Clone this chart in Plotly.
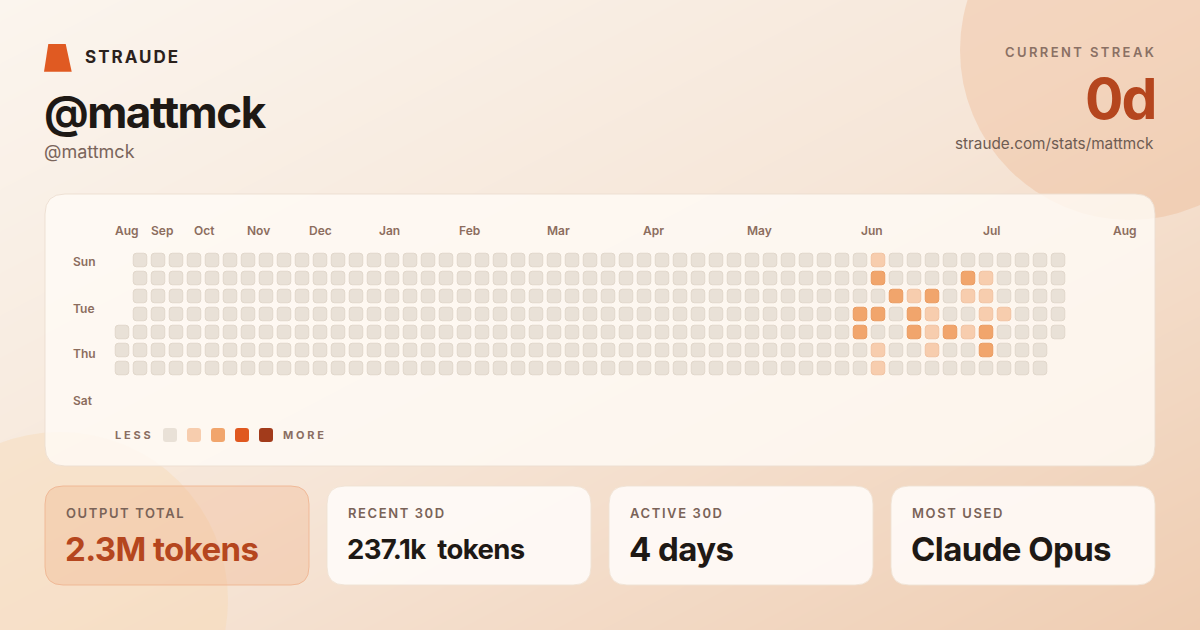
import plotly.graph_objects as go

W, H = 1200, 630

# ---------------- data ----------------
N_WEEKS = 53
FIRST_WEEK_START_DAY = 4   # first column begins on Thursday
LAST_WEEK_END_DAY = 4      # last column ends on Thursday

ACTIVE_WEEK = [42, 42, 47, 48, 43, 44, 45, 47, 48, 41, 42, 44, 45, 48, 49,
               41, 44, 45, 46, 47, 48, 42, 45, 48, 42]
ACTIVE_DAY = [0, 1, 1, 1, 2, 2, 2, 2, 2, 3, 3, 3, 3, 3, 3,
              4, 4, 4, 4, 4, 4, 5, 5, 5, 6]
ACTIVE_LEVEL = [1, 2, 2, 1, 2, 1, 2, 1, 1, 2, 2, 2, 1, 1, 1,
                2, 2, 1, 2, 1, 2, 1, 1, 2, 1]

MONTH_LABELS = ["Aug", "Sep", "Oct", "Nov", "Dec", "Jan", "Feb", "Mar",
                "Apr", "May", "Jun", "Jul", "Aug"]
MONTH_WEEK_POS = [0.28, 2.22, 4.61, 7.58, 11.0, 14.86, 19.33, 24.25,
                  29.5, 35.44, 41.67, 48.33, 55.72]
DAY_LABELS = ["Sun", "Tue", "Thu", "Sat"]
DAY_ROW_POS = [0.11, 2.67, 5.22, 7.78]
LEGEND_LEVELS = [0, 1, 2, 3, 4]

STAT_LABELS = ["OUTPUT TOTAL", "RECENT 30D", "ACTIVE 30D", "MOST USED"]
STAT_VALUES = ["2.3M tokens", "237.1k\u00a0 tokens", "4 days", "Claude Opus"]

BRAND = "STRAUDE"
USERNAME = "@mattmck"
HANDLE = "@mattmck"
STREAK_LABEL = "CURRENT STREAK"
STREAK_VALUE = "0d"
PROFILE_URL = "straude.com/stats/mattmck"

# ---------------- style ----------------
LEVEL_COLORS = ["#E9E1D7", "#F7CDAE", "#F1A56C", "#E0581F", "#A23B1B"]
LEVEL_LINES = ["#E1D7CB", "#F1C3A2", "#EA9B60", "#D64F18", "#963416"]
FONT = "Inter"
BROWN = "#8C6D5E"
DARK = "#1E1915"
RUST = "#B5461E"

CELL = 0.75      # cell size in grid units (1 unit = 18 px)
CELL_R = 0.17


def rrect(x0, y0, x1, y1, r):
    return (f"M{x0 + r},{y0} L{x1 - r},{y0} Q{x1},{y0} {x1},{y0 + r} "
            f"L{x1},{y1 - r} Q{x1},{y1} {x1 - r},{y1} L{x0 + r},{y1} "
            f"Q{x0},{y1} {x0},{y1 - r} L{x0},{y0 + r} Q{x0},{y0} {x0 + r},{y0} Z")


fig = go.Figure()

# background gradient on the canvas axes (x2/y2 in pixel units)
fig.add_trace(go.Heatmap(
    x=[0, W], y=[0, H], z=[[0.0, 0.5], [0.5, 1.0]],
    xaxis="x2", yaxis="y2", zsmooth="best", showscale=False, hoverinfo="skip",
    colorscale=[[0, "#FBF5EE"], [0.5, "#F6E6D8"], [1, "#EFCDB2"]],
))

shapes = []
# decorative circles
shapes.append(dict(type="circle", xref="x2", yref="y2", x0=1130 - 170, x1=1130 + 170,
                   y0=50 - 170, y1=50 + 170, fillcolor="rgba(236,176,134,0.33)",
                   line=dict(width=0), layer="above"))
shapes.append(dict(type="circle", xref="x2", yref="y2", x0=60 - 168, x1=60 + 168,
                   y0=600 - 168, y1=600 + 168, fillcolor="rgba(250,212,165,0.30)",
                   line=dict(width=0), layer="above"))

# logo
shapes.append(dict(type="path", xref="x2", yref="y2",
                   path="M48.3,44 L65.7,44 L71.7,71.7 L44,71.7 Z",
                   fillcolor="#E05A22", line=dict(width=0), layer="above"))

# main heatmap card
shapes.append(dict(type="path", xref="x2", yref="y2", path=rrect(45, 194, 1155, 466, 20),
                   fillcolor="rgba(255,251,246,0.80)",
                   line=dict(color="rgba(236,222,208,0.9)", width=1), layer="above"))

# stat cards
for i in range(len(STAT_LABELS)):
    x0 = 45 + i * 282
    if i == 0:
        fc, lc = "rgba(240,172,130,0.30)", "rgba(238,180,145,0.85)"
    else:
        fc, lc = "rgba(255,252,249,0.88)", "rgba(240,226,212,0.9)"
    shapes.append(dict(type="path", xref="x2", yref="y2",
                       path=rrect(x0, 486, x0 + 264, 585, 18),
                       fillcolor=fc, line=dict(color=lc, width=1), layer="above"))

# activity cells (grid axes x/y: 1 unit = one week column / one weekday row)
level_of = {(w, d): lv for w, d, lv in zip(ACTIVE_WEEK, ACTIVE_DAY, ACTIVE_LEVEL)}
h = CELL / 2
for w in range(N_WEEKS):
    d0 = FIRST_WEEK_START_DAY if w == 0 else 0
    d1 = LAST_WEEK_END_DAY if w == N_WEEKS - 1 else 6
    for d in range(d0, d1 + 1):
        lv = level_of.get((w, d), 0)
        shapes.append(dict(type="path", xref="x", yref="y",
                           path=rrect(w - h, d - h, w + h, d + h, CELL_R),
                           fillcolor=LEVEL_COLORS[lv],
                           line=dict(color=LEVEL_LINES[lv], width=1), layer="above"))

# legend swatches
for i, lv in enumerate(LEGEND_LEVELS):
    cx = 170 + 24 * i
    shapes.append(dict(type="path", xref="x2", yref="y2",
                       path=rrect(cx - 7, 428, cx + 7, 442, 3),
                       fillcolor=LEVEL_COLORS[lv], line=dict(width=0), layer="above"))

ann = []


def spaced(t, px):
    return f'<span style="letter-spacing:{px}px">{t}</span>'


def txt(text, x, y, size, color, weight=400, xanchor="left", xref="x2", yref="y2"):
    ann.append(dict(text=text, x=x, y=y, xref=xref, yref=yref, xanchor=xanchor,
                    yanchor="middle", showarrow=False,
                    font=dict(family=FONT, size=size, color=color, weight=weight)))


txt(spaced(BRAND, 2.0), 83, 57, 17, "#2B211C", 700)
txt(spaced(USERNAME, -1.5), 42, 112, 44, DARK, 700)
txt(HANDLE, 42, 151, 18, "#7A655B", 400)
txt(spaced(STREAK_LABEL, 2.4), 1157.5, 52, 13, "#8A7064", 600, xanchor="right")
txt(spaced(STREAK_VALUE, -2), 1157, 98, 57, RUST, 700, xanchor="right")
txt(PROFILE_URL, 1156, 143, 15.3, "#6E5C52", 400, xanchor="right")

for lab, pos in zip(MONTH_LABELS, MONTH_WEEK_POS):
    ann.append(dict(text=lab, x=pos, y=230, xref="x", yref="y2", xanchor="center",
                    yanchor="middle", showarrow=False,
                    font=dict(family=FONT, size=12, color=BROWN, weight=600)))
for lab, pos in zip(DAY_LABELS, DAY_ROW_POS):
    ann.append(dict(text=lab, x=71, y=pos, xref="x2", yref="y", xanchor="left",
                    yanchor="middle", showarrow=False,
                    font=dict(family=FONT, size=12, color=BROWN, weight=600)))

txt(spaced("LESS", 2.8), 113, 435, 11, "#8A6E62", 700)
txt(spaced("MORE", 2.8), 281, 435, 11, "#8A6E62", 700)

for i, (lab, val) in enumerate(zip(STAT_LABELS, STAT_VALUES)):
    x0 = 45 + i * 282 + 20
    txt(spaced(lab, 1.6), x0 - 1, 513, 13, "#7A6358", 600)
    size = 27.5 if i == 1 else 33
    txt(spaced(val, -0.6), x0 - 2, 549, size, RUST if i == 0 else DARK, 700)

fig.update_layout(
    width=W, height=H, margin=dict(l=0, r=0, t=0, b=0),
    paper_bgcolor="#F7EADF", plot_bgcolor="rgba(0,0,0,0)",
    showlegend=False, shapes=shapes, annotations=ann,
    xaxis=dict(range=[-122 / 18, (W - 122) / 18], domain=[0, 1], visible=False,
               fixedrange=True),
    yaxis=dict(range=[(H - 260) / 18, -260 / 18], domain=[0, 1], visible=False,
               fixedrange=True),
    xaxis2=dict(range=[0, W], domain=[0, 1], visible=False, anchor="y2",
                fixedrange=True),
    yaxis2=dict(range=[H, 0], domain=[0, 1], visible=False, anchor="x2",
                fixedrange=True),
)

fig.write_html("out.html", config={"displayModeBar": False},
               post_script="document.body.style.margin='0';"
                           "document.body.style.overflow='hidden';")
